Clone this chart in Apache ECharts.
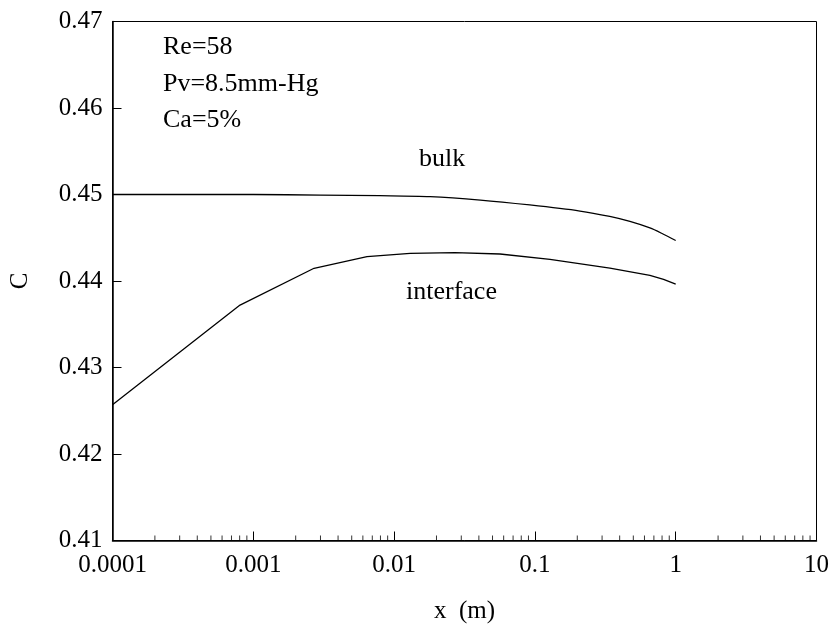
<!DOCTYPE html>
<html>
<head>
<meta charset="utf-8">
<title>C vs x</title>
<script src="https://cdn.jsdelivr.net/npm/echarts@6/dist/echarts.min.js"></script>
<style>
  html, body { margin: 0; padding: 0; background: #fff; }
  #chart { width: 833px; height: 628px; }
</style>
</head>
<body>
<div id="chart"></div>
<script>
// Concentration C along the tube, bulk vs. interface (x in metres, log scale)
const bulkX = [0.0001, 0.001, 0.003, 0.0079, 0.018, 0.041, 0.092, 0.209, 0.34, 0.473, 0.656, 0.8, 1.0];
const bulkC = [0.4500, 0.4500, 0.44993, 0.44986, 0.44975, 0.44936, 0.44879, 0.44809, 0.44746, 0.44688, 0.44613, 0.44549, 0.44468];

const interfaceX = [0.0001, 0.000805, 0.0027, 0.00642, 0.013, 0.027, 0.0565, 0.128, 0.341, 0.656, 0.82, 1.0];
const interfaceC = [0.4257, 0.43722, 0.44147, 0.44281, 0.4432, 0.44327, 0.44312, 0.44249, 0.4415, 0.44064, 0.4402, 0.43965];

const xTickLabels = ['0.0001', '0.001', '0.01', '0.1', '1', '10'];
const yTickLabels = ['0.41', '0.42', '0.43', '0.44', '0.45', '0.46', '0.47'];

// minor tick positions (2..9 within each decade) for the log axis
const minorTicks = [
  0.0002, 0.0003, 0.0004, 0.0005, 0.0006, 0.0007, 0.0008, 0.0009,
  0.002, 0.003, 0.004, 0.005, 0.006, 0.007, 0.008, 0.009,
  0.02, 0.03, 0.04, 0.05, 0.06, 0.07, 0.08, 0.09,
  0.2, 0.3, 0.4, 0.5, 0.6, 0.7, 0.8, 0.9,
  2, 3, 4, 5, 6, 7, 8, 9
];

const annotations = ['Re=58', 'Pv=8.5mm-Hg', 'Ca=5%'];

const FONT = '"Liberation Serif", "Times New Roman", serif';

const chart = echarts.init(document.getElementById('chart'), null, { renderer: 'canvas' });

function fmtX(v) {
  const s = Number(Number(v).toPrecision(1)).toString();
  return xTickLabels.indexOf(s) >= 0 ? s : '';
}

chart.setOption({
  animation: false,
  backgroundColor: '#fff',
  grid: {
    left: 112.5, right: 16.5, top: 21.5, bottom: 87.5,
    outerBoundsMode: 'none', containLabel: false,
    show: true, borderColor: '#000', borderWidth: 1, backgroundColor: 'transparent'
  },
  xAxis: {
    type: 'log', logBase: 10, min: 0.0001, max: 10,
    name: 'x  (m)', nameLocation: 'middle', nameGap: 58,
    nameTextStyle: { fontFamily: FONT, fontSize: 25, color: '#000' },
    axisLine: { show: true, lineStyle: { color: '#000', width: 1.5 } },
    axisTick: { show: true, inside: true, length: 9, lineStyle: { color: '#000', width: 1 } },
    axisLabel: { fontFamily: FONT, fontSize: 25, color: '#000', margin: 12, formatter: fmtX },
    splitLine: { show: false }
  },
  yAxis: {
    type: 'value', min: 0.41, max: 0.47, interval: 0.01,
    name: 'C', nameLocation: 'middle', nameGap: 80, nameRotate: 90,
    nameTextStyle: { fontFamily: FONT, fontSize: 25, color: '#000' },
    axisLine: { show: true, lineStyle: { color: '#000', width: 1.5 } },
    axisTick: { show: true, inside: true, length: 9, lineStyle: { color: '#000', width: 1 } },
    axisLabel: {
      fontFamily: FONT, fontSize: 25, color: '#000', margin: 10,
      formatter: function (v) {
        const i = Math.round((v - 0.41) / 0.01);
        return yTickLabels[i] !== undefined ? yTickLabels[i] : '';
      }
    },
    splitLine: { show: false }
  },
  series: [
    {
      name: 'bulk', type: 'line', showSymbol: false, smooth: 0.3, silent: true,
      lineStyle: { color: '#000', width: 1.3 },
      data: bulkX.map((x, i) => [x, bulkC[i]])
    },
    {
      name: 'interface', type: 'line', showSymbol: false, smooth: false, silent: true,
      lineStyle: { color: '#000', width: 1.3 },
      data: interfaceX.map((x, i) => [x, interfaceC[i]])
    },
    {
      name: 'minor ticks', type: 'scatter', silent: true, clip: false,
      symbol: 'rect', symbolSize: [1, 5], symbolOffset: [0, -2.5],
      itemStyle: { color: '#000' },
      data: minorTicks.map(x => [x, 0.41]),
      z: 5
    }
  ],
  graphic: [
    { type: 'text', left: 163, top: 34, style: { text: annotations[0], font: '26px ' + FONT, fill: '#000' } },
    { type: 'text', left: 163, top: 71, style: { text: annotations[1], font: '26px ' + FONT, fill: '#000' } },
    { type: 'text', left: 163, top: 107, style: { text: annotations[2], font: '26px ' + FONT, fill: '#000' } },
    { type: 'text', left: 419, top: 146, style: { text: 'bulk', font: '26px ' + FONT, fill: '#000' } },
    { type: 'text', left: 406, top: 279, style: { text: 'interface', font: '26px ' + FONT, fill: '#000' } }
  ]
});
</script>
</body>
</html>
